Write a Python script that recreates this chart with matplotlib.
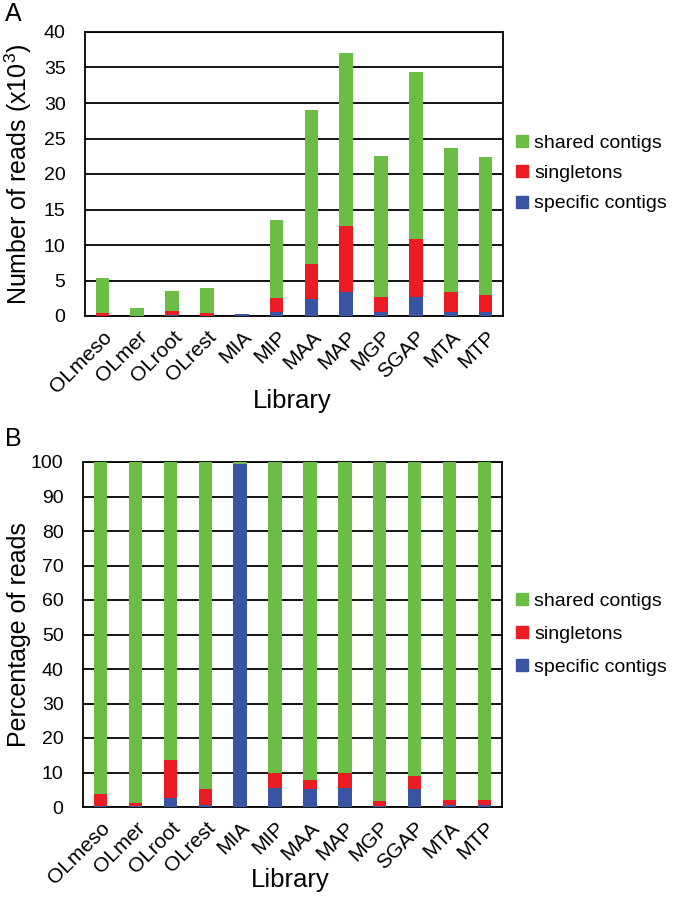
import matplotlib
matplotlib.use("Agg")
import matplotlib.pyplot as plt
from matplotlib.lines import Line2D

plt.rcParams['font.family'] = ['Liberation Sans', 'DejaVu Sans']
plt.rcParams['mathtext.default'] = 'regular'

libraries = ["OLmeso", "OLmer", "OLroot", "OLrest", "MIA", "MIP", "MAA", "MAP",
             "MGP", "SGAP", "MTA", "MTP"]

# Panel A: number of reads (x10^3)
a_specific = [0.05, 0.01, 0.08, 0.02, 0.22, 0.6, 2.35, 3.4, 0.5, 2.7, 0.5, 0.5]
a_singletons = [0.35, 0.01, 0.67, 0.36, 0.0, 1.9, 4.95, 9.3, 2.2, 8.2, 2.9, 2.4]
a_shared = [4.9, 1.15, 2.81, 3.52, 0.01, 11.0, 21.7, 24.3, 19.8, 23.4, 20.2, 19.5]

# Panel B: percentage of reads
b_specific = [0.2, 0.3, 2.6, 0.5, 99.5, 5.6, 5.3, 5.5, 0.3, 5.3, 0.5, 0.6]
b_singletons = [3.5, 0.8, 10.9, 4.8, 0.0, 4.4, 2.6, 4.5, 1.3, 3.6, 1.4, 1.3]
b_shared = [96.3, 98.9, 86.5, 94.7, 0.5, 90.0, 92.1, 90.0, 98.4, 91.1, 98.1, 98.1]

series_names = ["shared contigs", "singletons", "specific contigs"]
c_shared = "#6bbd45"
c_single = "#ec1c24"
c_spec = "#3a54a4"

W, H = 677, 906
fig = plt.figure(figsize=(W / 100, H / 100), dpi=100)


def ax_rect(l, r, t, b):
    return [l / W, 1 - b / H, (r - l) / W, (b - t) / H]


def draw(ax, spec, single, shared, ymax, step, ylabel, ylabel_x, xlabel_y, width):
    x = list(range(len(libraries)))
    bot2 = [s + g for s, g in zip(spec, single)]
    ax.bar(x, spec, width, color=c_spec, zorder=3)
    ax.bar(x, single, width, bottom=spec, color=c_single, zorder=3)
    ax.bar(x, shared, width, bottom=bot2, color=c_shared, zorder=3)
    ax.set_xlim(-0.5, len(libraries) - 0.5)
    ax.set_ylim(0, ymax)
    ax.set_yticks(list(range(0, ymax + 1, step)))
    ax.yaxis.grid(True, color="black", linewidth=1.3, zorder=0)
    ax.set_axisbelow(True)
    ax.set_xticks(x)
    ax.set_xticklabels(libraries, rotation=45, ha="right", rotation_mode="anchor",
                       fontsize=15)
    ax.tick_params(axis="y", length=0, pad=14, labelsize=14)
    ax.tick_params(axis="x", length=0, pad=8)
    for sp in ax.spines.values():
        sp.set_linewidth(1.3)
        sp.set_color("black")
    ax.set_ylabel(ylabel, fontsize=18)
    ax.yaxis.set_label_coords(ylabel_x, 0.5)
    ax.set_xlabel("Library", fontsize=18.5)
    ax.xaxis.set_label_coords(0.495, xlabel_y)


axA = fig.add_axes(ax_rect(85, 503, 32, 316))
draw(axA, a_specific, a_singletons, a_shared, 40, 5,
     r"Number of reads (x10$^{3}$)", -0.121, -0.256, 0.39)

axB = fig.add_axes(ax_rect(83, 502, 462, 807))
draw(axB, b_specific, b_singletons, b_shared, 100, 10,
     "Percentage of reads", -0.125, -0.177, 0.38)

handles = [Line2D([], [], marker="s", linestyle="none", markersize=9, color=c)
           for c in (c_shared, c_single, c_spec)]
for top, sp in ((134, 0.66), (592, 0.8)):
    fig.legend(handles, series_names, loc="upper left",
               bbox_to_anchor=(515 / W, 1 - top / H), frameon=False,
               fontsize=14, handlelength=0.7, handletextpad=0.3,
               labelspacing=sp, borderpad=0, borderaxespad=0)

fig.text(5 / W, 1 - 2 / H, "A", fontsize=18, va="top", ha="left")
fig.text(5 / W, 1 - 427 / H, "B", fontsize=18, va="top", ha="left")

fig.savefig("out.png", dpi=100)
